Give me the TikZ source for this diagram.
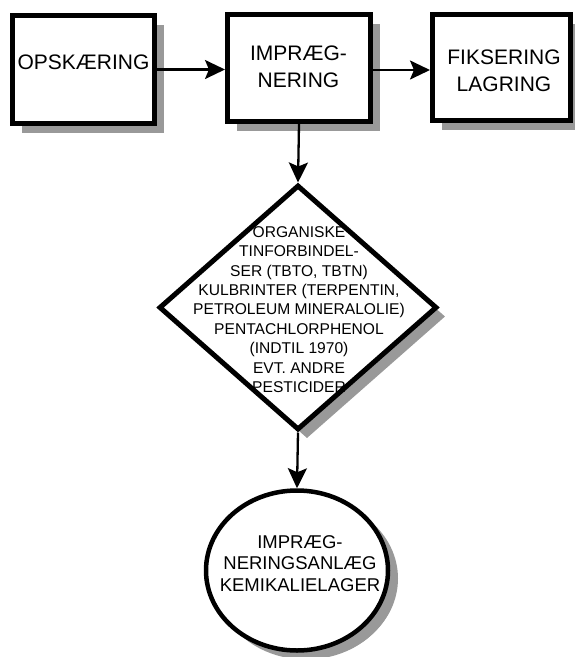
\documentclass[tikz,border=0pt]{standalone}
\usepackage{fontspec}
\setmainfont{Liberation Sans}
\usetikzlibrary{arrows.meta,shapes.geometric,shadows}
\definecolor{shadowgray}{HTML}{999999}
\begin{document}
\begin{tikzpicture}[x=1pt,y=-1pt,
  shade box/.style={draw=black,line width=5pt,fill=white,
    drop shadow={shadow xshift=9pt,shadow yshift=-9pt,fill=shadowgray,opacity=1}},
  stepbox/.style={shade box,rectangle,inner sep=0pt},
  boxtext/.style={font=\fontsize{21}{27}\selectfont,align=center,inner sep=0pt},
  flow/.style={line width=2.3pt,-{Stealth[length=20pt,width=19pt,inset=4pt]}}]
\useasboundingbox (0,0) rectangle (574,657);

% process boxes along the top row
\node[stepbox,minimum width=142pt,minimum height=108pt] (b1) at (83.5,69.5) {};
\node[boxtext] (t1) at (83.5,62) {OPSKÆRING};
\node[stepbox,minimum width=143pt,minimum height=107pt] (b2) at (299,68) {};
\node[boxtext] (t2) at (298.5,66.5) {IMPRÆG-\\NERING};
\node[stepbox,minimum width=138pt,minimum height=106pt] (b3) at (501.5,67.5) {};
\node[boxtext] (t3) at (504,70.5) {FIKSERING\\LAGRING};

% chemicals used in the impregnation step
\node[shade box,diamond,inner sep=0pt,minimum width=278pt,minimum height=245pt]
  (dia) at (298,307.5) {};
\node[align=center,inner sep=0pt,font=\fontsize{15.6}{19.4}\selectfont] (dtext) at (299,309.5)
  {ORGANISKE\\TINFORBINDEL-\\SER (TBTO, TBTN)\\KULBRINTER (TERPENTIN,\\PETROLEUM MINERALOLIE)\\PENTACHLORPHENOL\\(INDTIL 1970)\\EVT. ANDRE\\PESTICIDER};

% plant and chemical storage
\node[shade box,ellipse,line width=4.5pt,inner sep=0pt,minimum width=182pt,minimum height=160pt,
  drop shadow={shadow xshift=10pt,shadow yshift=-8pt,fill=shadowgray,opacity=1}]
  (ell) at (297,570.5) {};
\node[align=center,inner sep=0pt,font=\fontsize{18.5}{21.7}\selectfont] (etext) at (300,563.5)
  {IMPRÆG-\\NERINGSANLÆG\\KEMIKALIELAGER};

% connectors
\draw[flow] (b1.east) -- (b1.east -| b2.west);
\draw[flow] (b2.east |- 0,70) -- (b3.west |- 0,70);
\draw[flow] (b2.south) -- (dia.north);
\draw[flow] (dia.south) -- (ell.north);
\end{tikzpicture}
\end{document}
